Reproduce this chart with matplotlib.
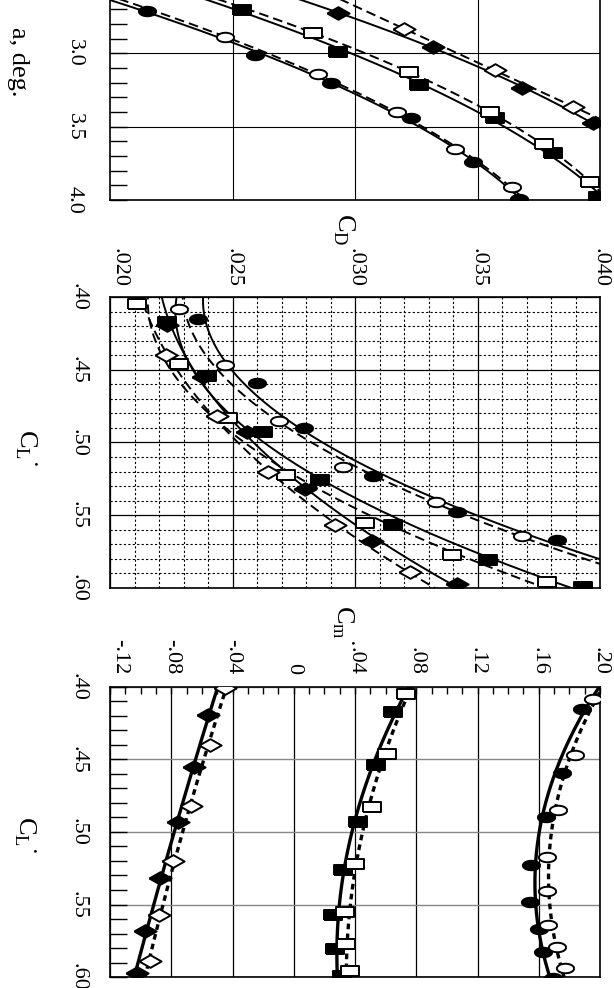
import numpy as np
import matplotlib
matplotlib.use('Agg')
import matplotlib.pyplot as plt
from matplotlib.ticker import MultipleLocator, FixedLocator

plt.rcParams['font.family'] = ['Liberation Serif', 'DejaVu Serif']
plt.rcParams['axes.linewidth'] = 1.2

nan = np.nan

# ---------------- data ----------------
# filled circles (solid line)
cl_fc = [0.415, 0.459, 0.490, 0.523, 0.548, 0.567, 0.583, 0.601]
alpha_fc = [2.71, 3.01, 3.20, 3.44, 3.74, 3.99, nan, nan]
cd_fc = [0.0236, 0.0260, 0.0279, 0.03075, 0.03415, 0.03823, nan, nan]
cm_fc = [0.188, 0.175, 0.165, 0.155, 0.154, 0.160, 0.163, 0.1695]

# open circles (dashed line)
cl_oc = [0.408, 0.447, 0.485, 0.517, 0.541, 0.564, 0.579, 0.594]
alpha_oc = [nan, 2.89, 3.14, 3.40, 3.65, 3.91, nan, nan]
cd_oc = [0.0228, 0.0247, 0.0269, 0.0295, 0.0333, 0.0368, nan, nan]
cm_oc = [0.1956, 0.1837, 0.1728, 0.1652, 0.1652, 0.1662, 0.1717, 0.1771]

# filled squares (solid line)
cl_fs = [0.417, 0.454, 0.493, 0.526, 0.557, 0.581, 0.599]
alpha_fs = [nan, 2.705, 2.99, 3.216, 3.44, 3.678, 3.978]
cd_fs = [0.02231, 0.02395, 0.02626, 0.02857, 0.03156, 0.03544, 0.03932]
cm_fs = [0.0650, 0.0537, 0.0421, 0.0320, 0.0258, 0.0269, 0.0313]

# open squares (dashed line)
cl_os = [0.405, 0.446, 0.483, 0.522, 0.555, 0.577, 0.596]
alpha_os = [nan, nan, 2.86, 3.13, 3.40, 3.62, 3.88]
cd_os = [0.02111, 0.02282, 0.02483, 0.02718, 0.03041, 0.03395, 0.03783]
cm_os = [0.0733, 0.0611, 0.0509, 0.0400, 0.0335, 0.0341, 0.0367]

# filled diamonds (solid line)
cl_fd = [0.419, 0.455, 0.493, 0.532, 0.568, 0.597]
alpha_fd = [nan, nan, 2.725, 2.957, 3.236, 3.474]
cd_fd = [0.02231, 0.02381, 0.02558, 0.02796, 0.03068, 0.03415]
cm_fd = [-0.0558, -0.0649, -0.0754, -0.0873, -0.0971, -0.1026]

# open diamonds (dashed line)
cl_od = [0.401, 0.440, 0.482, 0.520, 0.557, 0.589]
alpha_od = [nan, nan, nan, 2.834, 3.113, 3.365]
cd_od = [nan, 0.02229, 0.02436, 0.02646, 0.02918, 0.03225]
cm_od = [-0.0449, -0.0547, -0.0673, -0.0786, -0.0878, -0.0939]

# tick labels
cl_ticks = [0.40, 0.45, 0.50, 0.55, 0.60]
cl_labels = ['.40', '.45', '.50', '.55', '.60']
alpha_ticks = [3.0, 3.5, 4.0]
alpha_labels = ['3.0', '3.5', '4.0']
cd_ticks = [0.020, 0.025, 0.030, 0.035, 0.040]
cd_labels = ['.020', '.025', '.030', '.035', '.040']
cm_ticks = [-0.12, -0.08, -0.04, 0.0, 0.04, 0.08, 0.12, 0.16, 0.20]
cm_labels = ['-.12', '-.08', '-.04', '0', '.04', '.08', '.12', '.16', '.20']

# ---------------- markers ----------------
t = np.linspace(0, 2 * np.pi, 41)
ellipse = list(zip(np.cos(t), 0.55 * np.sin(t)))
rectm = [(-1, -0.6), (1, -0.6), (1, 0.6), (-1, 0.6), (-1, -0.6)]
diamond = [(-1, 0), (0, 0.57), (1, 0), (0, -0.57), (-1, 0)]

series = [
    (cl_fc, alpha_fc, cd_fc, cm_fc, ellipse, 12.4, True),
    (cl_oc, alpha_oc, cd_oc, cm_oc, ellipse, 12.4, False),
    (cl_fs, alpha_fs, cd_fs, cm_fs, rectm, 12.4, True),
    (cl_os, alpha_os, cd_os, cm_os, rectm, 12.4, False),
    (cl_fd, alpha_fd, cd_fd, cm_fd, diamond, 16, True),
    (cl_od, alpha_od, cd_od, cm_od, diamond, 16, False),
]

W, H = 614, 988
fig = plt.figure(figsize=(W / 100, H / 100), dpi=100)
fig.patch.set_facecolor('white')


def rect(x0, y0, x1, y1):
    return [x0 / W, 1 - y1 / H, (x1 - x0) / W, (y1 - y0) / H]


ax1 = fig.add_axes(rect(110, 0, 600, 200))
ax2 = fig.add_axes(rect(110, 297, 600, 588))
ax3 = fig.add_axes(rect(110, 687, 600, 977))


def fit(x, y, xs, deg=2):
    x = np.asarray(x, float)
    y = np.asarray(y, float)
    m = ~(np.isnan(y) | np.isnan(x))
    d = deg if m.sum() > deg + 1 else 1
    p = np.polyfit(x[m], y[m], d)
    return np.polyval(p, xs)


cls = np.linspace(0.385, 0.615, 400)
als = np.linspace(2.55, 4.1, 400)

for cl, al, cd, cm, mk, ms, filled in series:
    fc = 'black' if filled else 'white'
    ls1 = '-' if filled else (0, (5, 2.6))
    mkw = dict(linestyle='none', marker=mk, markersize=ms, markerfacecolor=fc,
               markeredgecolor='black', markeredgewidth=1.4, zorder=4)
    # top panel: alpha vs CL (lift curve fitted as CL(alpha))
    cl_line = fit(al, cl, als)
    ax1.plot(cl_line, als, color='black', lw=1.4, linestyle=ls1, zorder=3)
    ax1.plot(cl, al, **mkw)
    # middle panel: CD vs CL
    d_line = fit(cl, cd, cls)
    ax2.plot(d_line, cls, color='black', lw=1.4, linestyle=ls1, zorder=3)
    ax2.plot(cd, cl, **mkw)
    # bottom panel: Cm vs CL
    m_line = fit(cl, cm, cls)
    ls3 = '-' if filled else (0, (1.7, 1.3))
    ax3.plot(m_line, cls, color='black', lw=2.4, linestyle=ls3, zorder=3)
    ax3.plot(cm, cl, **mkw)

TFS = 16

# ---------- top panel ----------
ax1.set_xlim(0.40, 0.60)
ax1.set_ylim(4.0, 2.637)
ax1.xaxis.set_major_locator(FixedLocator([0.45, 0.50, 0.55]))
ax1.tick_params(axis='x', which='both', length=0, labelbottom=False, labeltop=False)
ax1.yaxis.set_major_locator(FixedLocator(alpha_ticks))
ax1.set_yticklabels(alpha_labels)
ax1.yaxis.set_minor_locator(MultipleLocator(0.1))
ax1.tick_params(axis='y', which='both', direction='in', length=12, width=1,
                left=True, right=False, labelsize=TFS, pad=19)
for lab in ax1.get_yticklabels():
    lab.set_rotation(-90)
    lab.set_va('center')
ax1.grid(True, which='major', color='black', lw=0.8)
ax1.set_axisbelow(True)
ax1.spines['top'].set_visible(False)

# ---------- middle panel ----------
ax2.set_xlim(0.020, 0.040)
ax2.set_ylim(0.60, 0.40)
ax2.xaxis.tick_top()
ax2.xaxis.set_major_locator(FixedLocator(cd_ticks))
ax2.set_xticklabels(cd_labels)
ax2.xaxis.set_minor_locator(MultipleLocator(0.001))
ax2.yaxis.set_major_locator(FixedLocator(cl_ticks))
ax2.set_yticklabels(cl_labels)
ax2.yaxis.set_minor_locator(MultipleLocator(0.01))
ax2.tick_params(axis='both', which='both', length=0, labelsize=TFS)
ax2.tick_params(axis='x', pad=7)
ax2.tick_params(axis='y', pad=16)
for lab in ax2.get_xticklabels():
    lab.set_rotation(-90)
ax2.get_xticklabels()[0].set_ha('left')
for lab in ax2.get_yticklabels():
    lab.set_rotation(-90)
    lab.set_va('center')
ax2.grid(True, which='minor', color='black', lw=0.8, linestyle=(0, (2, 2)))
ax2.grid(True, which='major', color='black', lw=0.9)
ax2.set_axisbelow(True)

# ---------- bottom panel ----------
ax3.set_xlim(-0.12, 0.20)
ax3.set_ylim(0.60, 0.40)
ax3.xaxis.tick_top()
ax3.xaxis.set_major_locator(FixedLocator(cm_ticks))
ax3.set_xticklabels(cm_labels)
ax3.xaxis.set_minor_locator(MultipleLocator(0.01))
ax3.tick_params(axis='x', which='both', direction='in', length=5, width=1,
                top=True, bottom=False, labelsize=TFS, pad=9)
ax3.yaxis.set_major_locator(FixedLocator(cl_ticks))
ax3.set_yticklabels(cl_labels)
ax3.yaxis.set_minor_locator(MultipleLocator(0.01))
ax3.tick_params(axis='y', which='both', direction='in', length=12, width=1,
                left=True, right=False, labelsize=TFS, pad=16)
for lab in ax3.get_xticklabels():
    lab.set_rotation(-90)
ax3.get_xticklabels()[0].set_ha('left')
for lab in ax3.get_yticklabels():
    lab.set_rotation(-90)
    lab.set_va('center')
ax3.xaxis.grid(True, which='major', color='black', lw=0.9)
ax3.yaxis.grid(True, which='major', color='#888888', lw=1.0)
ax3.set_axisbelow(True)

# ---------- axis titles ----------
LFS = 19
fig.text(18 / W, 1 - 62 / H, 'a, deg.', rotation=-90, ha='center', va='center', fontsize=LFS)
fig.text(26 / W, 1 - 448 / H, 'C$_\\mathregular{L}$\u02d9', rotation=-90, ha='center', va='center', fontsize=LFS)
fig.text(25 / W, 1 - 835 / H, 'C$_\\mathregular{L}$\u02d9', rotation=-90, ha='center', va='center', fontsize=LFS)
fig.text(344 / W, 1 - 229 / H, 'C$_\\mathregular{D}$', rotation=-90, ha='center', va='center', fontsize=LFS)
fig.text(343 / W, 1 - 625 / H, 'C$_\\mathregular{m}$\u02d9', rotation=-90, ha='center', va='center', fontsize=LFS)

fig.savefig('out.png', dpi=100, facecolor='white')
